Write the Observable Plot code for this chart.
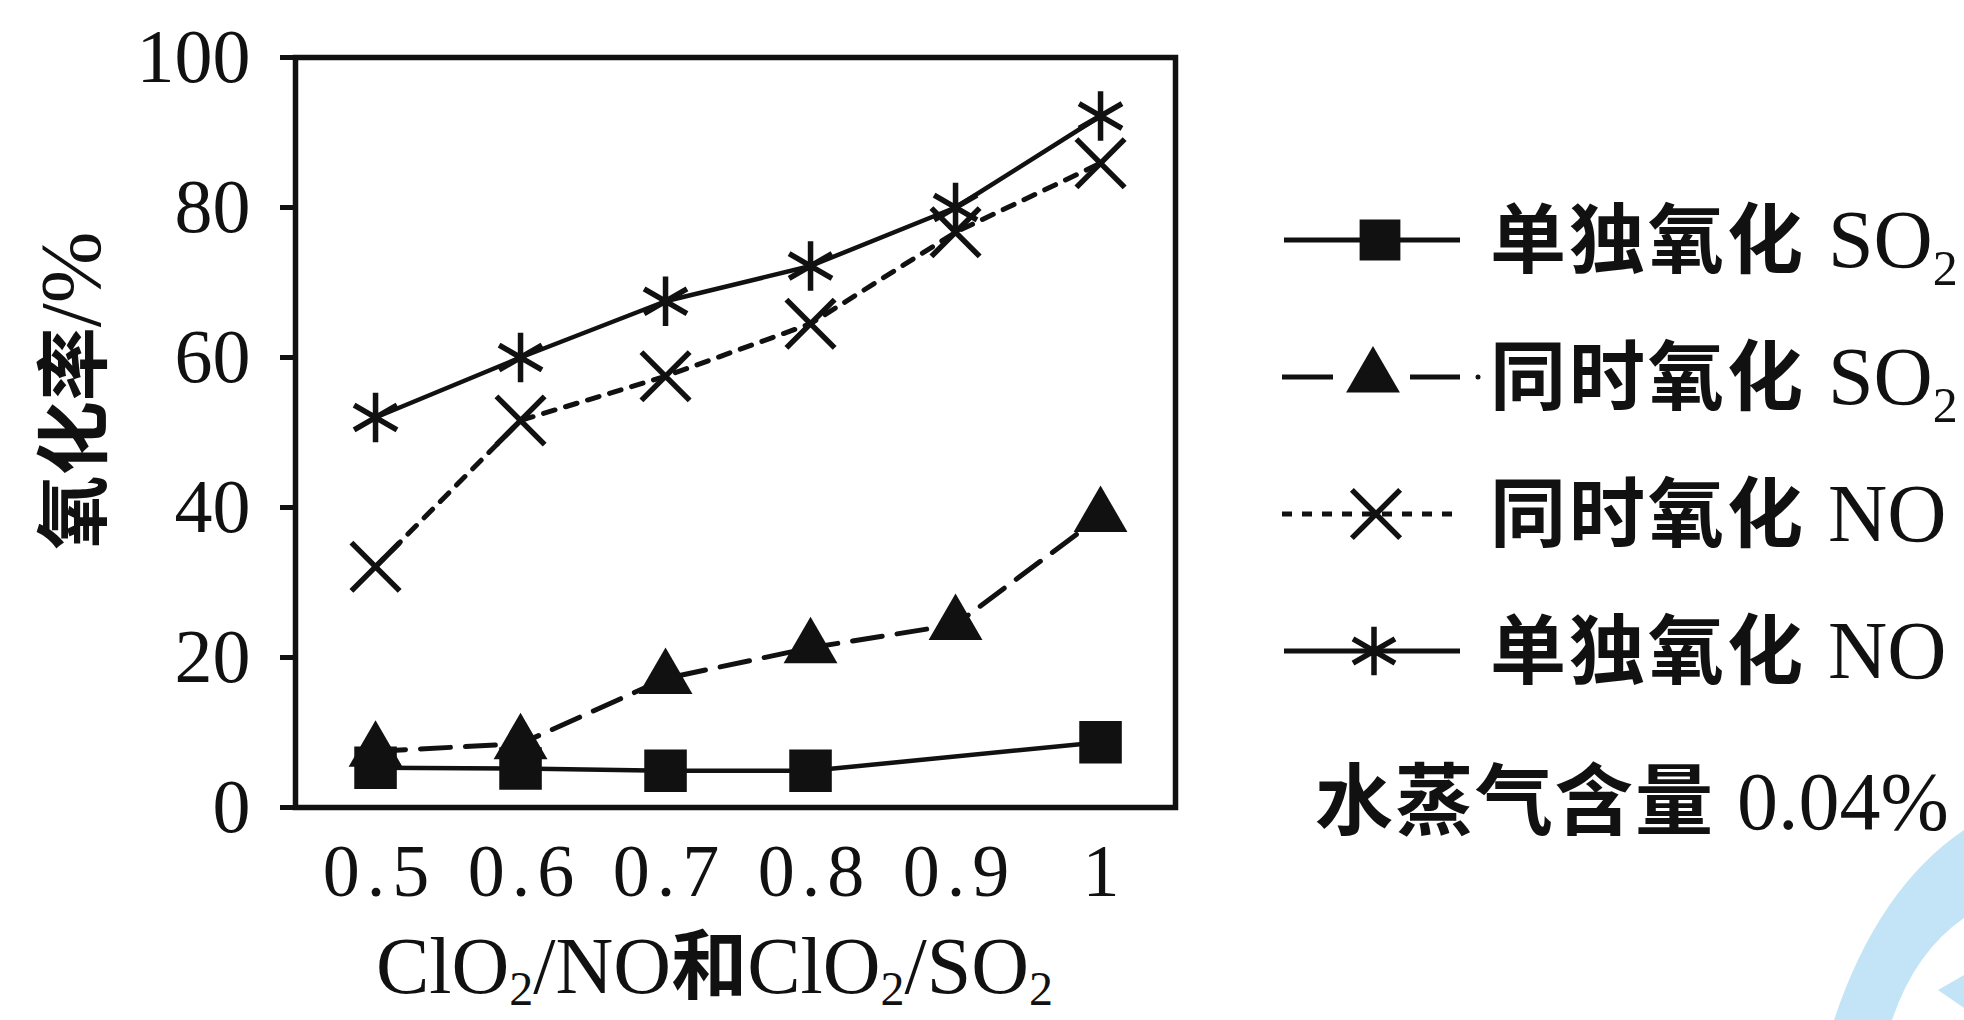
<!DOCTYPE html>
<html><head><meta charset="utf-8">
<script src="https://cdn.jsdelivr.net/npm/d3@7"></script>
<script src="https://cdn.jsdelivr.net/npm/@observablehq/plot@0.6"></script>
<style>
body{margin:0;background:#fff;}
#wrap{position:relative;width:1964px;height:1020px;overflow:hidden;background:#fff;}
#wrap svg{position:absolute;left:0;top:0;}
</style></head><body><div id="wrap"></div>
<script>
// ---- data ----
const ratios = [0.5, 0.6, 0.7, 0.8, 0.9, 1];
const xTickLabels = ["0.5", "0.6", "0.7", "0.8", "0.9", "1"];
const yTicks = [0, 20, 40, 60, 80, 100];
const soloSO2Ratios = [0.5, 0.6, 0.7, 0.8, 1];
const soloSO2 = [5.3, 5.2, 4.9, 4.9, 8.7];          // 单独氧化 SO2
const simSO2 = [7.5, 8.5, 17.2, 21.3, 24.4, 38.8];  // 同时氧化 SO2
const simNO = [32.1, 51.6, 57.5, 64.5, 76.7, 85.9]; // 同时氧化 NO
const soloNO = [52, 60, 67.5, 72.2, 80, 92.2];      // 单独氧化 NO
const seriesNames = ["单独氧化", "同时氧化", "同时氧化", "单独氧化"];
const seriesGas = ["SO2", "SO2", "NO", "NO"];
const note = "水蒸气含量 0.04%";
const yLabel = "氧化率/%";
const xLabel = "ClO2/NO和ClO2/SO2";

// ---- tables ----
const tSoloSO2 = soloSO2Ratios.map((x, i) => ({x, y: soloSO2[i]}));
const tSimSO2 = ratios.map((x, i) => ({x, y: simSO2[i]}));
const tSimNO = ratios.map((x, i) => ({x, y: simNO[i]}));
const tSoloNO = ratios.map((x, i) => ({x, y: soloNO[i]}));

const FONT = "'Liberation Serif','Times New Roman','Noto Sans CJK SC',serif";
const CJK = "'Noto Sans CJK SC',sans-serif";
const INK = "#111";
const W = 1964, H = 1020;
const frameL = 295, frameR = 1175, frameT = 57, frameB = 807;

const chart = Plot.plot({
  width: W, height: H,
  marginLeft: frameL, marginRight: W - frameR, marginTop: frameT, marginBottom: H - frameB,
  style: {fontFamily: FONT, fontSize: "76px", color: INK, background: "transparent"},
  x: {domain: [0.4448, 1.0517]},
  y: {domain: [0, 100]},
  marks: [
    Plot.axisX({ticks: ratios, tickFormat: d => xTickLabels[ratios.indexOf(d)], tickSize: 0, tickPadding: 36, fontSize: 74, dx: 4, label: null}),
    Plot.axisY({ticks: yTicks, tickSize: 15, tickPadding: 30, strokeWidth: 5, fontSize: 76, label: null}),
    Plot.line(tSoloSO2, {x: "x", y: "y", stroke: INK, strokeWidth: 4.5}),
    Plot.line(tSimSO2, {x: "x", y: "y", stroke: INK, strokeWidth: 5, strokeDasharray: "30,15"}),
    Plot.line(tSimNO, {x: "x", y: "y", stroke: INK, strokeWidth: 5, strokeDasharray: "12,11"}),
    Plot.line(tSoloNO, {x: "x", y: "y", stroke: INK, strokeWidth: 4.5}),
    Plot.dot(tSoloSO2, {x: "x", y: "y", symbol: "square", r: 24, fill: INK}),
    Plot.dot(tSimSO2, {x: "x", y: "y", symbol: "triangle", r: 20, fill: INK}),
    Plot.dot(tSimNO, {x: "x", y: "y", symbol: "times", r: 22, stroke: INK, strokeWidth: 5.5}),
    Plot.dot(tSoloNO, {x: "x", y: "y", symbol: "asterisk", r: 23.5, stroke: INK, strokeWidth: 5.5}),
    Plot.frame({stroke: INK, strokeWidth: 5.5}),
    Plot.text([yLabel], {text: d => d, frameAnchor: "left", textAnchor: "middle", lineAnchor: "middle", rotate: -90, dx: -220, dy: -42, fontSize: 76, fill: INK}),
    Plot.text([xLabel], {text: d => d, frameAnchor: "bottom", textAnchor: "middle", lineAnchor: "middle", dx: -21, dy: 160, fontSize: 80, fill: INK})
  ]
});
document.getElementById("wrap").appendChild(chart);

// letter spacing for x tick labels (as in the print)
d3.select(chart).selectAll('[aria-label="x-axis tick label"] text').attr("letter-spacing", 7);

// rebuild a text with CJK in bold and "O2" subscripts
function richify(textEl, size, latinSize) {
  const s = textEl.textContent;
  const sel = d3.select(textEl);
  sel.text(null);
  const tokens = s.match(/[\u4e00-\u9fff]+|O2|[^\u4e00-\u9fffO]+|O/g);
  const shift = size * 0.15;
  let shifted = false;
  const add = (txt) => {
    const t = sel.append("tspan").text(txt);
    if (shifted) { t.attr("dy", -shift); shifted = false; }
    return t;
  };
  tokens.forEach(tok => {
    if (/^[\u4e00-\u9fff]+$/.test(tok)) {
      add(tok).attr("font-family", CJK).attr("font-weight", 700).attr("font-size", size * 0.95);
    } else if (tok === "O2") {
      add("O").attr("font-size", latinSize);
      sel.append("tspan").attr("font-size", size * 0.6).attr("dy", shift).text("2");
      shifted = true;
    } else {
      add(tok).attr("font-size", latinSize);
    }
  });
}
d3.select(chart).selectAll("text").each(function() {
  if (this.textContent === xLabel) richify(this, 80, 80);
  else if (this.textContent === yLabel) richify(this, 78, 86);
});

// ---- legend (drawn beside the plot) ----
const leg = d3.select("#wrap").append("svg")
  .attr("width", W).attr("height", H)
  .style("font-family", FONT).style("pointer-events", "none");

// watermark arc in the corner
leg.append("path").attr("d", "M1834,1020 Q1878,888 1964,830 L1964,918 Q1915,952 1892,1020 Z").attr("fill", "#c3e4f7");
leg.append("path").attr("d", "M1938,990 L1964,975 L1964,1008 Z").attr("fill", "#c3e4f7");

const rowY = [240, 377, 514, 651];
const sym = (type, r) => d3.symbol().type(type).size(Math.PI * r * r)();
const legendSpecs = [
  {segs: [[1284, 1460]], dash: null, mx: 1380, shape: sym(d3.symbolSquare, 23), fill: true},
  {segs: [[1282, 1333], [1410, 1460]], dash: null, dot: 1478, mx: 1373, shape: sym(d3.symbolTriangle, 20), fill: true},
  {segs: [[1282, 1460]], dash: "10,10", mx: 1376, shape: sym(d3.symbolTimes, 22), fill: false},
  {segs: [[1284, 1460]], dash: null, mx: 1374, shape: sym(d3.symbolAsterisk, 23), fill: false}
];
legendSpecs.forEach((s, i) => {
  const y = rowY[i];
  const g = leg.append("g");
  s.segs.forEach(([a, b]) => {
    g.append("line").attr("x1", a).attr("x2", b).attr("y1", y).attr("y2", y)
      .attr("stroke", INK).attr("stroke-width", 5).attr("stroke-dasharray", s.dash);
  });
  if (s.dot) g.append("circle").attr("cx", s.dot).attr("cy", y).attr("r", 2.5).attr("fill", INK);
  g.append("path").attr("d", s.shape).attr("transform", `translate(${s.mx},${y})`)
    .attr("fill", s.fill ? INK : "none").attr("stroke", INK).attr("stroke-width", s.fill ? 0 : 5.5);
  const t = g.append("text").attr("x", 1490).attr("y", y + 27).attr("fill", INK).attr("font-size", 76);
  t.append("tspan").attr("font-family", CJK).attr("font-weight", 700).attr("letter-spacing", 3).text(seriesNames[i]);
  const gas = seriesGas[i];
  if (gas.endsWith("2")) {
    t.append("tspan").attr("font-size", 82).attr("dx", 22).text(gas.slice(0, -1));
    t.append("tspan").attr("font-size", 50).attr("dy", 18).text("2");
  } else {
    t.append("tspan").attr("font-size", 82).attr("dx", 22).text(gas);
  }
});
const nt = leg.append("text").attr("x", 1315).attr("y", 802 + 27).attr("fill", INK).attr("font-size", 78);
nt.append("tspan").attr("font-family", CJK).attr("font-weight", 700).attr("letter-spacing", 2).text(note.split(" ")[0]);
nt.append("tspan").attr("dx", 22).attr("font-size", 82).text(note.split(" ")[1]);
</script>
</body></html>
